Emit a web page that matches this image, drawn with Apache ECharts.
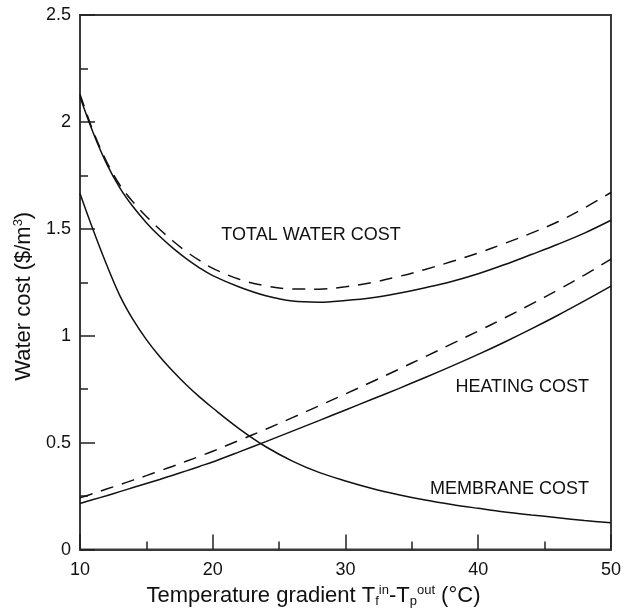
<!DOCTYPE html>
<html>
<head>
<meta charset="utf-8">
<script src="https://cdn.jsdelivr.net/npm/echarts@6/dist/echarts.min.js"></script>
<style>
  html, body { margin: 0; padding: 0; background: #fff; }
  #chart { width: 624px; height: 613px; }
</style>
</head>
<body>
<div id="chart"></div>
<script>
// Temperature gradient (°C) at which each cost is sampled
const gradient = [10, 11, 12, 13, 14, 15, 16, 17, 18, 19, 20, 22, 24, 26, 28, 30, 32, 34, 36, 38, 40, 42, 44, 46, 48, 50];

// Water cost components ($/m3): solid = base case, dashed = alternative case
const totalSolid    = [2.118, 1.948, 1.805, 1.692, 1.603, 1.529, 1.465, 1.41, 1.361, 1.318, 1.281, 1.228, 1.187, 1.162, 1.157, 1.165, 1.178, 1.199, 1.225, 1.254, 1.29, 1.333, 1.38, 1.428, 1.48, 1.54];
const totalDashed   = [2.13, 1.955, 1.815, 1.705, 1.625, 1.558, 1.498, 1.443, 1.394, 1.352, 1.315, 1.264, 1.233, 1.219, 1.218, 1.229, 1.249, 1.277, 1.31, 1.347, 1.387, 1.432, 1.48, 1.533, 1.598, 1.67];
const heatingSolid  = [0.216, 0.234, 0.252, 0.271, 0.29, 0.309, 0.328, 0.348, 0.368, 0.389, 0.41, 0.457, 0.505, 0.554, 0.603, 0.653, 0.703, 0.753, 0.805, 0.858, 0.913, 0.971, 1.032, 1.096, 1.163, 1.232];
const heatingDashed = [0.242, 0.262, 0.283, 0.304, 0.325, 0.346, 0.368, 0.39, 0.413, 0.436, 0.46, 0.511, 0.563, 0.617, 0.672, 0.728, 0.785, 0.843, 0.902, 0.962, 1.022, 1.084, 1.148, 1.214, 1.284, 1.358];
const membrane      = [1.665, 1.493, 1.333, 1.188, 1.075, 0.982, 0.903, 0.834, 0.771, 0.714, 0.662, 0.565, 0.481, 0.414, 0.361, 0.321, 0.286, 0.257, 0.232, 0.211, 0.193, 0.176, 0.162, 0.149, 0.136, 0.125];

// Axis ticks
const xTicks = { min: 10, max: 50, step: 10 };
const yTicks = { min: 0, max: 2.5, step: 0.5 };

// Curve annotations in data coordinates
const annotations = [
  { text: 'TOTAL WATER COST', x: 27.4, y: 1.472, align: 'center' },
  { text: 'HEATING COST', x: 48.35, y: 0.76, align: 'right' },
  { text: 'MEMBRANE COST', x: 48.35, y: 0.283, align: 'right' }
];

const FONT = 'Arial, "Liberation Sans", Helvetica, sans-serif';
const INK = '#111';
const FRAME = '#3a3a3a';

function pairs(ys) { return gradient.map((x, i) => [x, ys[i]]); }

function curve(name, ys, dashed) {
  return {
    name: name,
    type: 'line',
    data: pairs(ys),
    smooth: 0.35,
    showSymbol: false,
    silent: true,
    lineStyle: { color: INK, width: 1.5, type: dashed ? [13, 9] : 'solid' },
    z: 3
  };
}

const axisCommon = {
  type: 'value',
  axisLine: { show: true, lineStyle: { color: FRAME, width: 2 } },
  axisTick: { show: true, inside: true, length: 15, lineStyle: { color: '#222', width: 1.5 } },
  minorTick: { show: true, splitNumber: 2, length: 8, lineStyle: { color: '#222', width: 1.5 } },
  splitLine: { show: false },
  minorSplitLine: { show: false }
};

const chart = echarts.init(document.getElementById('chart'), null, { renderer: 'canvas' });

chart.setOption({
  backgroundColor: '#fff',
  animation: false,
  grid: {
    left: 80, right: 12, top: 15, bottom: 63,
    show: true, borderColor: FRAME, borderWidth: 2, backgroundColor: 'transparent'
  },
  xAxis: Object.assign({}, axisCommon, {
    min: xTicks.min, max: xTicks.max, interval: xTicks.step,
    axisLabel: { color: INK, fontSize: 18, fontFamily: FONT, margin: 11 },
    name: 'Temperature gradient T{sub|f}{sup|in}-T{sub|p}{sup|out} (°C)',
    nameLocation: 'middle',
    nameGap: 17,
    nameTextStyle: {
      color: INK, fontSize: 22, fontFamily: FONT,
      padding: [0, 64, 0, 0],
      rich: {
        sub: { fontSize: 13, fontFamily: FONT, color: INK, padding: [12, 0, 0, 0] },
        sup: { fontSize: 13, fontFamily: FONT, color: INK, padding: [0, 0, 11, 0] }
      }
    }
  }),
  yAxis: Object.assign({}, axisCommon, {
    min: yTicks.min, max: yTicks.max, interval: yTicks.step,
    axisLabel: { color: INK, fontSize: 18, fontFamily: FONT, margin: 9 },
    name: 'Water cost ($/m{sup|3})',
    nameLocation: 'middle',
    nameGap: 41,
    nameTextStyle: {
      color: INK, fontSize: 22, fontFamily: FONT,
      padding: [0, 28, 0, 0],
      rich: {
        sup: { fontSize: 13, fontFamily: FONT, color: INK, padding: [0, 0, 11, 0] }
      }
    }
  }),
  series: [
    curve('Total (base)', totalSolid, false),
    curve('Total (alt)', totalDashed, true),
    curve('Heating (base)', heatingSolid, false),
    curve('Heating (alt)', heatingDashed, true),
    curve('Membrane', membrane, false)
  ]
});

// Place curve annotations through the grid's coordinate system
chart.setOption({
  graphic: annotations.map(a => {
    const p = chart.convertToPixel({ gridIndex: 0 }, [a.x, a.y]);
    return {
      type: 'text',
      x: p[0], y: p[1],
      silent: true,
      style: {
        text: a.text, fill: INK, fontSize: 18, fontFamily: FONT,
        textAlign: a.align, textVerticalAlign: 'middle'
      }
    };
  })
});
</script>
</body>
</html>
